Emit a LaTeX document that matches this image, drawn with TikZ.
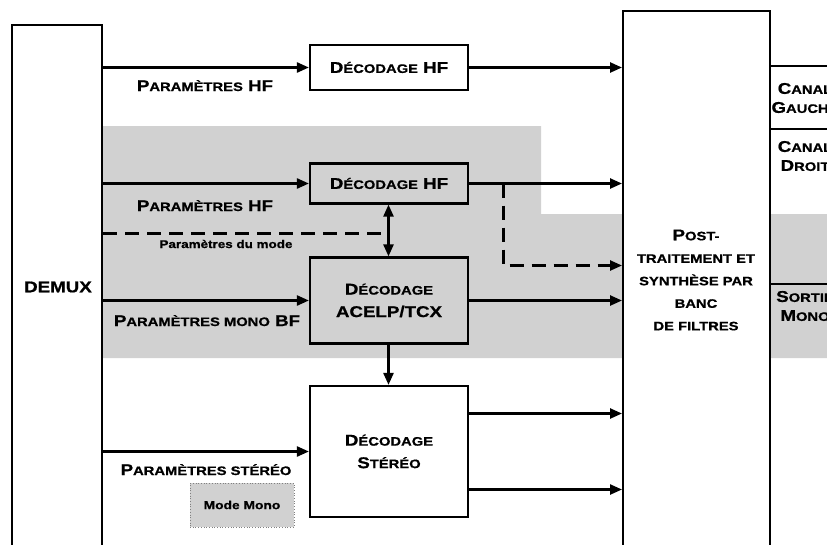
\documentclass[tikz,border=0pt]{standalone}
\usepackage{fontspec}
\setmainfont{Liberation Sans}
\newfontfamily\wf{Liberation Sans}[FakeStretch=1.2, BoldFeatures={FakeBold=0.8}]
\usetikzlibrary{arrows.meta,calc}
\newcommand\Cc[1]{{\fontsize{15.6}{22.5}\selectfont#1}}
\newcommand\Ss[1]{{\fontsize{12.3}{22.5}\selectfont#1}}
\definecolor{shadegray}{gray}{0.82}
\tikzset{
  every node/.style={font=\wf\bfseries\fontsize{15.6}{22.5}\selectfont, inner sep=0pt},
  blk/.style={draw, line width=2.2pt, align=center},
  arr/.style={-{Triangle[length=12pt,width=10pt]}, line width=2.4pt},
  dsh/.style={line width=2.4pt, dash pattern=on 14pt off 8pt},
  lab/.style={anchor=base},
  txt/.style={align=center},
  rtxt/.style={align=center, font=\wf\bfseries\fontsize{15.6}{19}\selectfont},
}
\begin{document}
\begin{tikzpicture}[x=1pt,y=-1pt]
\useasboundingbox (0,0) rectangle (827,544);
\clip (0,0) rectangle (827,544);
% shaded region
\fill[shadegray] (101,126) -- (541,126) -- (541,214) -- (827,214) -- (827,358) -- (101,358) -- cycle;
% boxes
\node[blk, anchor=north west, minimum width=90pt, minimum height=600pt] (demux) at (11,24) {};
\node[txt] (demuxt) at (58,287) {\Cc{DEMUX}};
\node[blk, anchor=north west, minimum width=147pt, minimum height=600pt, fill=white] (post) at (622,10) {};
\node[txt] (postt) at (696,280) {\Cc{P}\Ss{OST-}\\\Ss{TRAITEMENT ET}\\\Ss{SYNTHÈSE PAR}\\\Ss{BANC}\\\Ss{DE FILTRES}};
\node[blk, minimum width=158pt, minimum height=45pt] (hf1) at (389,67.5) {\Cc{D}\Ss{ÉCODAGE} \Cc{HF}};
\node[blk, minimum width=158pt, minimum height=40pt] (hf2) at (389,183.5) {\Cc{D}\Ss{ÉCODAGE} \Cc{HF}};
\node[blk, minimum width=158pt, minimum height=86pt] (acelp) at (389,300.5) {\Cc{D}\Ss{ÉCODAGE}\\\Cc{ACELP/TCX}};
\node[blk, minimum width=158pt, minimum height=131pt] (stereo) at (389,451.5) {\Cc{D}\Ss{ÉCODAGE}\\\Cc{S}\Ss{TÉRÉO}};
% right column
\node[blk, anchor=north west, minimum width=90pt, minimum height=63pt] (cg) at (769,65) {};
\node[blk, anchor=north west, minimum width=90pt, minimum height=155pt] (cd) at (769,128) {};
\node[blk, anchor=north west, minimum width=90pt, minimum height=300pt] (sm) at (769,283) {};
\node[rtxt] (cgt) at (805,98) {\Cc{C}\Ss{ANAL}\\\Cc{G}\Ss{AUCHE}};
\node[rtxt] (cdt) at (805,156) {\Cc{C}\Ss{ANAL}\\\Cc{D}\Ss{ROIT}};
\node[rtxt] (smt) at (805,306) {\Cc{S}\Ss{ORTIE}\\\Cc{M}\Ss{ONO}};
% labels
\node[lab] (l1) at (205,91) {\Cc{P}\Ss{ARAMÈTRES} \Cc{HF}};
\node[lab] (l2) at (205,211) {\Cc{P}\Ss{ARAMÈTRES} \Cc{HF}};
\node[lab, font=\wf\bfseries\fontsize{11.2}{13}\selectfont] (lm) at (226,248) {Paramètres du mode};
\node[lab] (l3) at (207,326) {\Cc{P}\Ss{ARAMÈTRES MONO} \Cc{BF}};
\node[lab] (l4) at (206,475) {\Cc{P}\Ss{ARAMÈTRES STÉRÉO}};
\node[draw=black!50, line width=0.7pt, dotted, fill=shadegray, minimum width=104pt, minimum height=44pt,
      font=\wf\bfseries\fontsize{11.5}{13}\selectfont] (mm) at (242,505) {Mode Mono};
% connectors
\draw[arr] (hf1.west -| demux.east) -- (hf1.west);
\draw[arr] (hf1.east) -- (hf1.east -| post.west);
\draw[arr] (hf2.west -| demux.east) -- (hf2.west);
\draw[arr] (hf2.east) -- (hf2.east -| post.west);
\coordinate (m) at (388.5,233.5);
\draw[dsh] (m -| demux.east) -- (m);
\draw[arr] (m) -- (m |- hf2.south);
\draw[arr] (m) -- (m |- acelp.north);
\coordinate (d) at (503.5,183.5);
\coordinate (d2) at (503.5,265.5);
\draw[dsh] (d) -- (d2) -- ($(d2 -| post.west)+(-11,0)$);
\draw[arr] ($(d2 -| post.west)+(-12,0)$) -- (d2 -| post.west);
\draw[arr] (acelp.west -| demux.east) -- (acelp.west);
\draw[arr] (acelp.east) -- (acelp.east -| post.west);
\draw[arr] (m |- acelp.south) -- (m |- stereo.north);
\draw[arr] (stereo.west -| demux.east) -- (stereo.west);
\draw[arr] ($(stereo.east)+(0,-38)$) -- ($(stereo.east -| post.west)+(0,-38)$);
\draw[arr] ($(stereo.east)+(0,38)$) -- ($(stereo.east -| post.west)+(0,38)$);
\end{tikzpicture}
\end{document}
